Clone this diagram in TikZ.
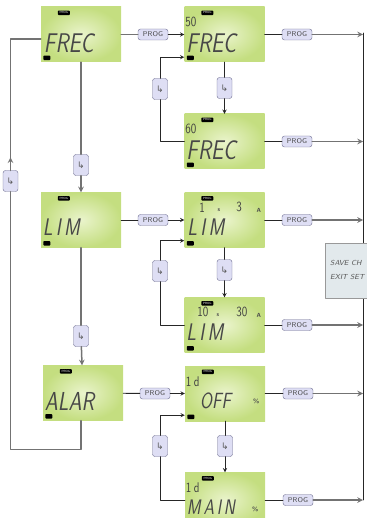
\documentclass[tikz,border=0pt]{standalone}
\usepackage{fontspec}
\newfontfamily\keyfont{DejaVu Sans}
\usetikzlibrary{positioning,calc}
\definecolor{lcdlo}{RGB}{196,222,128}
\definecolor{lcdhi}{RGB}{234,244,204}
\definecolor{btnfill}{RGB}{222,222,244}
\definecolor{btndraw}{RGB}{108,108,142}
\definecolor{savefill}{RGB}{226,233,236}
\tikzset{
	lcd/.style={minimum width=80pt,minimum height=55pt,inner sep=0pt,inner color=lcdhi,outer color=lcdlo},
	tag/.style={fill=black,rounded corners=0.8pt,minimum width=12pt,minimum height=4.5pt,inner sep=0pt,text=white,font=\fontsize{3}{3}\selectfont\sffamily},
	seg/.style={anchor=west,inner sep=0pt,text=black!72,xscale=0.8,font=\fontsize{27}{27}\selectfont\sffamily\slshape},
	digit/.style={anchor=west,inner sep=0pt,text=black!75,xscale=0.8,font=\fontsize{14}{14}\selectfont\sffamily},
	unit/.style={anchor=west,inner sep=0pt,text=black!70,font=\fontsize{6}{6}\selectfont\sffamily\bfseries},
	prog/.style={draw=btndraw,fill=btnfill,rounded corners=2.5pt,minimum width=30pt,minimum height=11pt,inner sep=0pt,text=black!70,font=\fontsize{7}{7}\selectfont\sffamily},
	key/.style={draw=btndraw,fill=btnfill,rounded corners=2.5pt,minimum width=15pt,minimum height=21pt,inner sep=0pt,text=black!65,font=\fontsize{9}{9}\selectfont\keyfont},
	flow/.style={draw=black!55,line width=1.5pt},
	link/.style={draw=black!85,line width=0.9pt},
	savebox/.style={draw=black!40,fill=savefill,minimum width=56pt,minimum height=55pt,inner sep=0pt},
	savetext/.style={anchor=west,inner sep=0pt,text=black!65,font=\fontsize{7.3}{7.3}\selectfont\sffamily\itshape}
}
\newcommand{\lcdpanel}[2]{%
	\node[lcd] (#1) at (#2) {};
	\node[tag] (#1-tag) at ([shift={(23,6)}]#1.north west) {PROG};
	\node[tag,minimum width=7pt] (#1-set) at ([shift={(6,51)}]#1.north west) {};
}
\begin{document}
\begin{tikzpicture}[>=stealth,line join=round,line cap=round,x=1pt,y=-1pt]
	\useasboundingbox (0,0) rectangle (366,518);
	\lcdpanel{frec}{81,34.5}
	\lcdpanel{lim}{81,220}
	\lcdpanel{alar}{83,393}
	\lcdpanel{frec50}{224.5,34.5}
	\lcdpanel{frec60}{224.5,141.5}
	\lcdpanel{lim3}{224.5,220}
	\lcdpanel{lim30}{224.5,325}
	\lcdpanel{off}{225,393.5}
	\lcdpanel{main}{225,500}
	\node[seg] (frec-m) at ([shift={(3,36)}]frec.north west) {FREC};
	\node[seg,font=\fontsize{24}{24}\selectfont\sffamily\slshape] (lim-m) at ([shift={(2,35)}]lim.north west) {L\,I\,M};
	\node[seg,font=\fontsize{26}{26}\selectfont\sffamily\slshape] (alar-m) at ([shift={(2,36)}]alar.north west) {ALAR};
	\node[digit] (frec50-d) at ([shift={(1,15)}]frec50.north west) {50};
	\node[seg] (frec50-m) at ([shift={(2,36)}]frec50.north west) {FREC};
	\node[digit] (frec60-d) at ([shift={(1,15)}]frec60.north west) {60};
	\node[seg] (frec60-m) at ([shift={(2,36)}]frec60.north west) {FREC};
	\node[digit] (lim3-a) at ([shift={(15,15)}]lim3.north west) {1};
	\node[unit] (lim3-s) at ([shift={(33,18)}]lim3.north west) {s};
	\node[digit] (lim3-b) at ([shift={(52,15)}]lim3.north west) {3};
	\node[unit] (lim3-u) at ([shift={(72,18)}]lim3.north west) {A};
	\node[seg,font=\fontsize{24}{24}\selectfont\sffamily\slshape] (lim3-m) at ([shift={(3,35)}]lim3.north west) {L\,I\,M};
	\node[digit] (lim30-a) at ([shift={(13,15)}]lim30.north west) {10};
	\node[unit] (lim30-s) at ([shift={(32,18)}]lim30.north west) {s};
	\node[digit] (lim30-b) at ([shift={(52,15)}]lim30.north west) {30};
	\node[unit] (lim30-u) at ([shift={(72,18)}]lim30.north west) {A};
	\node[seg,font=\fontsize{24}{24}\selectfont\sffamily\slshape] (lim30-m) at ([shift={(2,34.5)}]lim30.north west) {L\,I\,M};
	\node[digit] (off-d) at ([shift={(1,15.5)}]off.north west) {1\hspace{3pt}d};
	\node[seg,font=\fontsize{22}{22}\selectfont\sffamily\slshape] (off-m) at ([shift={(15,35.5)}]off.north west) {OFF};
	\node[unit] (off-u) at ([shift={(68,36)}]off.north west) {\%};
	\node[digit] (main-d) at ([shift={(1,15.5)}]main.north west) {1\hspace{3pt}d};
	\node[seg,font=\fontsize{21}{21}\selectfont\sffamily\slshape] (main-m) at ([shift={(2,35)}]main.north west) {M\,A\,I\,N};
	\node[unit] (main-u) at ([shift={(67,37)}]main.north west) {\%};
	\node[prog] (pfrec) at (153,34.5) {PROG};
	\node[prog] (plim) at (153,220) {PROG};
	\node[prog] (palar) at (155,393.5) {PROG};
	\node[prog] (p50) at (297,34.5) {PROG};
	\node[prog] (p60) at (297,141.5) {PROG};
	\node[prog] (p3) at (297,220) {PROG};
	\node[prog] (p30) at (297,325) {PROG};
	\node[prog] (poff) at (298,393.5) {PROG};
	\node[prog] (pmain) at (298,500) {PROG};
	\node[key] (kfrec) at (81,165) {↳};
	\node[key] (klim) at (81,336) {↳};
	\node[key] (kback) at (10.5,181) {↳};
	\node[key] (kloop1) at (160,89) {↳};
	\node[key] (kloop2) at (160,271) {↳};
	\node[key] (kloop3) at (160,446) {↳};
	\node[key] (kdown1) at (224.5,88) {↳};
	\node[key] (kdown2) at (224.5,270) {↳};
	\node[key] (kdown3) at (225,446) {↳};
	\coordinate (bustop) at (363,33);
	\coordinate (busend) at (363,500);
	\draw[flow] (frec) -- (pfrec);
	\draw[link,->] (pfrec) -- (frec50);
	\draw[link] (lim) -- (plim);
	\draw[link,->] (plim) -- (lim3);
	\draw[link] (alar) -- (palar);
	\draw[link,->] (palar) -- (off);
	\draw[flow] (frec) -- (kfrec);
	\draw[flow,->] (kfrec) -- (lim);
	\draw[flow] (lim) -- (klim);
	\draw[flow,->] (klim) -- (alar);
	\draw[flow] (alar.south -| frec) -- ++(0,29) -| (kback);
	\draw[flow,->] (kback.north) -- ++(0,-13);
	\draw[flow] (kback.north) |- ($(frec.west)+(0,4.5)$);
	\draw[link] (frec50) -- (kdown1);
	\draw[link,->] (kdown1) -- (frec60);
	\draw[link] (lim3) -- (kdown2);
	\draw[link,->] (kdown2) -- (lim30);
	\draw[link] (off) -- (kdown3);
	\draw[link,->] (kdown3) -- (main);
	\draw[link] (frec60.west) -| (kloop1);
	\draw[link,->] (kloop1) |- ($(frec50.south west)+(0,-5)$);
	\draw[link] (lim30.west) -| (kloop2);
	\draw[link,->] (kloop2) |- ($(lim3.south west)+(0,-7)$);
	\draw[link] (main.west) -| (kloop3);
	\draw[link,->] (kloop3) |- ($(off.south west)+(0,-6)$);
	\draw[link] (bustop) -- (busend);
	\foreach \row/\btn in {frec50/p50,frec60/p60,lim3/p3,lim30/p30,off/poff,main/pmain}{
		\draw[link] (\row) -- (\btn);
		\draw[flow,->] (\btn) -- (\btn -| bustop);
	}
	\node[savebox] (save) at (353,270.5) {};
	\node[savetext] (save-a) at (330,263) {SAVE CH};
	\node[savetext] (save-b) at (330,277) {EXIT SET};
\end{tikzpicture}
\end{document}
